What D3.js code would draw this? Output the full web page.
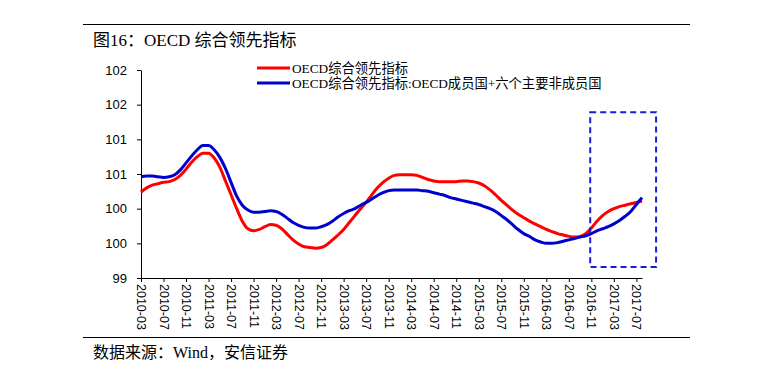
<!DOCTYPE html>
<html>
<head>
<meta charset="utf-8">
<script src="https://cdn.jsdelivr.net/npm/d3@7"></script>
<style>
  body { margin: 0; background: #fff; }
  svg { display: block; font-family: "Liberation Serif", "Noto Sans CJK SC", serif; }
</style>
</head>
<body>
<svg width="773" height="375"></svg>
<script>
// DATA ////////////////////////////////////////////////////////////////////////
const title = '图16：OECD 综合领先指标';
const source = '数据来源：Wind，安信证券';
const seriesNames = ['OECD综合领先指标', 'OECD综合领先指标:OECD成员国+六个主要非成员国'];

// monthly, 2010-03 .. 2017-08
const startMonth = '2010-03';
const oecd = [
  100.24, 100.30, 100.34, 100.36, 100.38, 100.39, 100.42, 100.48, 100.57, 100.67,
  100.75, 100.80, 100.80, 100.73, 100.60, 100.40, 100.20, 100.00, 99.82, 99.71,
  99.68, 99.70, 99.74, 99.77, 99.76, 99.71, 99.63, 99.55, 99.49, 99.45,
  99.44, 99.43, 99.44, 99.48, 99.55, 99.62, 99.70, 99.80, 99.90, 100.00,
  100.09, 100.20, 100.30, 100.38, 100.44, 100.48, 100.49, 100.49, 100.49, 100.48,
  100.45, 100.42, 100.40, 100.39, 100.39, 100.39, 100.39, 100.40, 100.40, 100.39,
  100.37, 100.33, 100.27, 100.20, 100.12, 100.05, 99.98, 99.92, 99.87, 99.82,
  99.78, 99.74, 99.70, 99.67, 99.64, 99.62, 99.60, 99.59, 99.60, 99.64,
  99.72, 99.82, 99.90, 99.96, 100.00, 100.03, 100.05, 100.07, 100.09, 100.11
];
const oecdPlus6 = [
  100.46, 100.47, 100.47, 100.46, 100.45, 100.46, 100.49, 100.56, 100.66, 100.76,
  100.85, 100.91, 100.91, 100.85, 100.74, 100.58, 100.38, 100.18, 100.05, 99.98,
  99.95, 99.95, 99.96, 99.97, 99.96, 99.92, 99.86, 99.80, 99.76, 99.73,
  99.72, 99.72, 99.74, 99.77, 99.82, 99.88, 99.93, 99.97, 100.00, 100.05,
  100.09, 100.14, 100.19, 100.23, 100.26, 100.27, 100.27, 100.27, 100.27, 100.27,
  100.26, 100.25, 100.23, 100.21, 100.19, 100.16, 100.14, 100.12, 100.10, 100.08,
  100.06, 100.03, 100.00, 99.96, 99.90, 99.84, 99.77, 99.70, 99.64, 99.60,
  99.55, 99.52, 99.50, 99.50, 99.51, 99.53, 99.55, 99.57, 99.59, 99.61,
  99.64, 99.68, 99.71, 99.74, 99.78, 99.83, 99.89, 99.96, 100.06, 100.16
];
const yTicks = [99, 99.5, 100, 100.5, 101, 101.5, 102];
const xTickStep = 4; // months between labels
// highlight box, in month index / value units
const boxMonths = [79.8, 91.5];
const boxValues = [99.16, 101.39];

// SET PARAMETERS //////////////////////////////////////////////////////////////
const svg = d3.select('svg');
const margin = { top: 70, left: 141, bottom: 97, right: 131 };
const W = +svg.attr('width');
const H = +svg.attr('height');
const width = W - margin.left - margin.right;
const height = H - margin.top - margin.bottom;
const g = svg.append('g').attr('transform', `translate(${margin.left},${margin.top})`);

const parseMonth = d3.timeParse('%Y-%m');
const fmtMonth = d3.timeFormat('%Y-%m');
const t0 = parseMonth(startMonth);
const months = oecd.map((d, i) => d3.timeMonth.offset(t0, i));

const x = d3.scaleLinear().domain([0, months.length - 1]).range([0, width]);
const y = d3.scaleLinear().domain([99, 102]).range([height, 0]);

const line = d3.line()
  .x((d, i) => x(i))
  .y(d => y(d))
  .curve(d3.curveMonotoneX);

// DRAW ///////////////////////////////////////////////////////////////////////
// header / footer rules
svg.append('line').attr('x1', 83).attr('x2', 690).attr('y1', 24.5).attr('y2', 24.5)
  .attr('stroke', '#000').attr('stroke-width', 1.2);
svg.append('line').attr('x1', 83).attr('x2', 690).attr('y1', 337.5).attr('y2', 337.5)
  .attr('stroke', '#000').attr('stroke-width', 1.2);
svg.append('text').attr('x', 93).attr('y', 46).style('font-size', '17px').text(title);
svg.append('text').attr('x', 93).attr('y', 358).style('font-size', '16px').text(source);

// y axis
const yAxis = g.append('g')
  .call(d3.axisLeft(y).tickValues(yTicks).tickFormat(d3.format('.0f')).tickSize(4).tickSizeOuter(0));
yAxis.select('.domain').attr('stroke', '#000');
yAxis.selectAll('text').style('font-size', '13px').attr('fill', '#000').attr('x', -14);

// x axis
const xIdx = d3.range(0, months.length, xTickStep);
const xAxis = g.append('g')
  .attr('transform', `translate(0,${height})`)
  .call(d3.axisBottom(x).tickValues(xIdx).tickFormat(i => fmtMonth(months[i])).tickSize(4).tickSizeOuter(0));
xAxis.select('.domain').attr('stroke', '#000');
xAxis.selectAll('text')
  .style('font-size', '12.5px')
  .attr('fill', '#000')
  .attr('text-anchor', 'start')
  .attr('transform', 'rotate(90)')
  .attr('x', 6)
  .attr('y', 0)
  .attr('dy', '0.35em');

// series
g.append('path').datum(oecd)
  .attr('fill', 'none').attr('stroke', '#ff0000').attr('stroke-width', 3).attr('d', line);
g.append('path').datum(oecdPlus6)
  .attr('fill', 'none').attr('stroke', '#0000cc').attr('stroke-width', 3).attr('d', line);

// dashed highlight box
g.append('rect')
  .attr('x', x(boxMonths[0]))
  .attr('y', y(boxValues[1]))
  .attr('width', x(boxMonths[1]) - x(boxMonths[0]))
  .attr('height', y(boxValues[0]) - y(boxValues[1]))
  .attr('fill', 'none')
  .attr('stroke', '#1a1adb')
  .attr('stroke-width', 2)
  .attr('stroke-dasharray', '6,4');

// legend
const legend = svg.append('g').attr('transform', 'translate(257,68)');
const legendColors = ['#ff0000', '#0000cc'];
seriesNames.forEach((name, i) => {
  const row = legend.append('g').attr('transform', `translate(0,${i * 15})`);
  row.append('line').attr('x1', 0).attr('x2', 33).attr('y1', 0).attr('y2', 0)
    .attr('stroke', legendColors[i]).attr('stroke-width', 3);
  row.append('text').attr('x', 35).attr('y', 0).attr('dy', '0.35em')
    .style('font-size', '13.3px').text(name);
});
</script>
</body>
</html>
